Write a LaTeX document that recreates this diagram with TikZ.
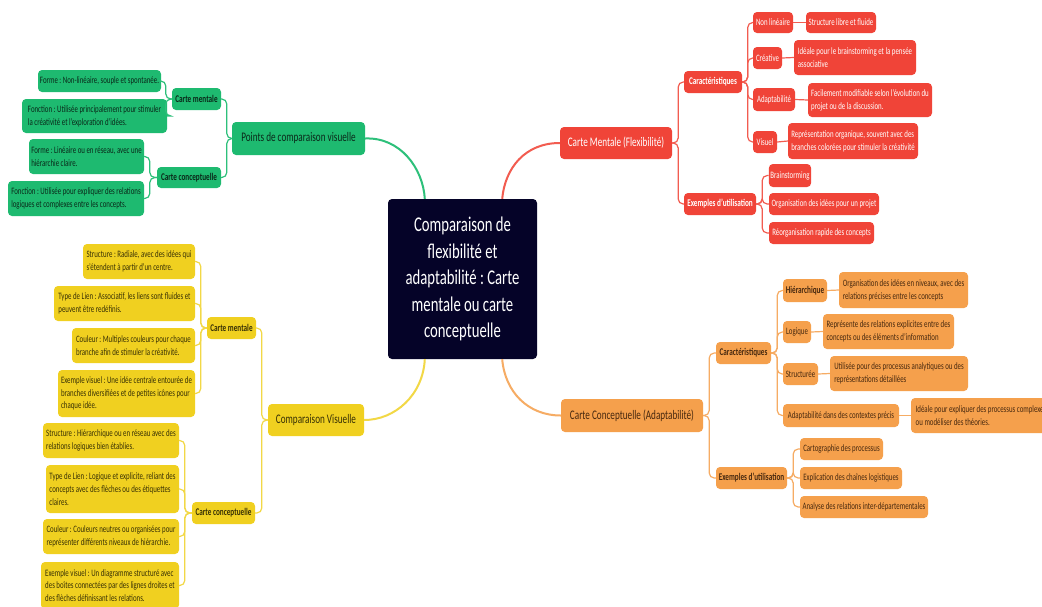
\documentclass[tikz,border=0pt]{standalone}
\usepackage{fontspec}
\setmainfont{Carlito}[FakeStretch=0.70]
\frenchspacing
\newcommand\fleaf{\fontsize{9.8}{12.8}\selectfont}
\newcommand\fmid{\fontsize{10.3}{11}\selectfont\bfseries}
\newcommand\fone{\fontsize{13.1}{15}\selectfont}
\newcommand\fcen{\fontsize{21}{26.5}\selectfont}
\definecolor{gfill}{RGB}{30,186,112}
\definecolor{gline}{RGB}{45,192,122}
\definecolor{gtext}{RGB}{10,40,25}
\definecolor{rfill}{RGB}{240,68,56}
\definecolor{rline}{RGB}{242,92,80}
\definecolor{ofill}{RGB}{245,160,76}
\definecolor{oline}{RGB}{246,172,100}
\definecolor{otext}{RGB}{70,40,15}
\definecolor{yfill}{RGB}{240,208,32}
\definecolor{yline}{RGB}{242,216,70}
\definecolor{ytext}{RGB}{55,48,5}
\definecolor{cfill}{RGB}{5,3,40}
\tikzset{
  x=1pt, y=-1pt,
  sz/.style 2 args={minimum width=#1pt, minimum height=#2pt},
  box/.style={rounded corners=4pt, align=left, inner sep=1.5pt, font=\fleaf},
  gbox/.style={box, fill=gfill, text=gtext},
  rbox/.style={box, fill=rfill, text=white},
  obox/.style={box, fill=ofill, text=otext},
  ybox/.style={box, fill=yfill, text=ytext},
  lvone/.style={font=\fone, align=center},
  lvtwo/.style={font=\fmid, align=center},
  link/.style={rounded corners=5pt, line width=1.2pt},
  curve/.style={line width=2pt},
}
\begin{document}
\begin{tikzpicture}
\useasboundingbox (0,0) rectangle (1042,606);
\fill[white] (0,0) rectangle (1042,606);

% central
\node[box, fill=cfill, text=white, font=\fcen, align=center, sz={149}{160}] (cen) at (462.5,279)
  {Comparaison de\\flexibilité et\\adaptabilité : Carte\\mentale ou carte\\conceptuelle};

% ---------------- green ----------------
\node[gbox, lvone, sz={133}{33}] (gP) at (298.5,138.5) {Points de comparaison visuelle};
\node[gbox, lvtwo, sz={49}{22}] (gCM) at (196.5,99) {Carte mentale};
\node[gbox, sz={123}{22}] (gCM1) at (99.5,81) {Forme : Non-linéaire, souple et spontanée.};
\node[gbox, sz={145}{34}] (gCM2) at (94.5,116) {Fonction : Utilisée principalement pour stimuler\\la créativité et l'exploration d'idées.};
\node[gbox, lvtwo, sz={64}{21}] (gCC) at (189,177.5) {Carte conceptuelle};
\node[gbox, sz={115}{35}] (gCC1) at (86.5,156.5) {Forme : Linéaire ou en réseau, avec une\\hiérarchie claire.};
\node[gbox, sz={136}{35}] (gCC2) at (76,198.5) {Fonction : Utilisée pour expliquer des relations\\logiques et complexes entre les concepts.};

\draw[curve, gline] (gP.east) .. controls (400,137) and (423,168) .. ([xshift=37pt]cen.north west);
\draw[link, gline] (gP.west) -- ++(-5,0) |- (gCM.east);
\draw[link, gline] (gP.west) -- ++(-5,0) |- (gCC.east);
\draw[link, gline] (gCM.west) -- ++(-6,0) |- (gCM1.east);
\draw[link, gline] (gCM.west) -- ++(-6,0) |- (gCM2.east);
\draw[link, gline] (gCC.west) -- ++(-7,0) |- (gCC1.east);
\draw[link, gline] (gCC.west) -- ++(-7,0) |- (gCC2.east);

% ---------------- red ----------------
\node[rbox, lvone, sz={112}{32}] (rCM) at (616,143) {Carte Mentale (Flexibilité)};
\node[rbox, lvtwo, sz={58}{22}] (rCa) at (713,82) {Caractéristiques};
\node[rbox, lvtwo, sz={72}{22}] (rEx) at (720,204) {Exemples d'utilisation};
\node[rbox, sz={40}{21}] (rNL) at (773,22.5) {Non linéaire};
\node[rbox, sz={70}{21}] (rNL1) at (841,22.5) {Structure libre et fluide};
\node[rbox, sz={29}{22}] (rCr) at (767.5,58) {Créative};
\node[rbox, sz={122}{35}] (rCr1) at (855,57.5) {Idéale pour le brainstorming et la pensée\\associative};
\node[rbox, sz={42}{23}] (rAd) at (774,99.5) {Adaptabilité};
\node[rbox, sz={124}{34}] (rAd1) at (870,100) {Facilement modifiable selon l'évolution du\\projet ou de la discussion.};
\node[rbox, sz={24}{22}] (rVi) at (765,142) {Visuel};
\node[rbox, sz={130}{36}] (rVi1) at (853,141) {Représentation organique, souvent avec des\\branches colorées pour stimuler la créativité};
\node[rbox, sz={42}{23}] (rEx1) at (790,175.5) {Brainstorming};
\node[rbox, sz={110}{22}] (rEx2) at (824,204) {Organisation des idées pour un projet};
\node[rbox, sz={105}{22}] (rEx3) at (821.5,233) {Réorganisation rapide des concepts};

\draw[curve, rline] ([xshift=-35pt]cen.north east) .. controls (505,168) and (525,143) .. (rCM.west);
\draw[link, rline] (rCM.east) -- ++(6,0) |- (rCa.west);
\draw[link, rline] (rCM.east) -- ++(6,0) |- (rEx.west);
\foreach \c in {rNL,rCr,rAd,rVi}
  \draw[link, rline] (rCa.east) -- ++(5.5,0) |- (\c.west);
\foreach \c in {rEx1,rEx2,rEx3}
  \draw[link, rline] (rEx.east) -- ++(6,0) |- (\c.west);
\draw[link, rline] (rNL.east) -- (rNL1.west);
\draw[link, rline] (rCr.east) -- (rCr1.west);
\draw[link, rline] (rAd.east) -- (rAd1.west);
\draw[link, rline] (rVi.east) -- (rVi1.west);

% ---------------- orange ----------------
\node[obox, lvone, sz={142}{33}] (oCC) at (632,415.5) {Carte Conceptuelle (Adaptabilité)};
\node[obox, lvtwo, sz={55}{22}] (oCa) at (743.5,353) {Caractéristiques};
\node[obox, lvtwo, sz={71}{22}] (oEx) at (751.5,478) {Exemples d'utilisation};
\node[obox, lvtwo, sz={44}{23}] (oHi) at (805,290.5) {Hiérarchique};
\node[obox, sz={129}{36}] (oHi1) at (903.5,290) {Organisation des idées en niveaux, avec des\\relations précises entre les concepts};
\node[obox, sz={28}{22}] (oLo) at (797,332) {Logique};
\node[obox, sz={131}{35}] (oLo1) at (888.5,331.5) {Représente des relations explicites entre des\\concepts ou des éléments d'information};
\node[obox, sz={35}{22}] (oSt) at (800.5,374) {Structurée};
\node[obox, sz={138}{35}] (oSt1) at (899,373.5) {Utilisée pour des processus analytiques ou des\\représentations détaillées};
\node[obox, sz={116}{23}] (oAd) at (841,415.5) {Adaptabilité dans des contextes précis};
\node[obox, sz={140}{35}] (oAd1) at (981,415.5) {Idéale pour expliquer des processus complexes\\ou modéliser des théories.};
\node[obox, sz={83}{22}] (oEx1) at (841.5,449) {Cartographie des processus};
\node[obox, sz={102}{22}] (oEx2) at (851,478) {Explication des chaînes logistiques};
\node[obox, sz={128}{22}] (oEx3) at (864,507) {Analyse des relations inter-départementales};

\draw[curve, oline] ([xshift=-35pt]cen.south east) .. controls (505,392) and (528,415.5) .. (oCC.west);
\draw[link, oline] (oCC.east) -- ++(6,0) |- (oCa.west);
\draw[link, oline] (oCC.east) -- ++(6,0) |- (oEx.west);
\foreach \c in {oHi,oLo,oSt,oAd}
  \draw[link, oline] (oCa.east) -- ++(6,0) |- (\c.west);
\foreach \c in {oEx1,oEx2,oEx3}
  \draw[link, oline] (oEx.east) -- ++(6,0) |- (\c.west);
\draw[link, oline] (oHi.east) -- (oHi1.west);
\draw[link, oline] (oLo.east) -- (oLo1.west);
\draw[link, oline] (oSt.east) -- (oSt1.west);
\draw[link, oline] (oAd.east) -- (oAd1.west);

% ---------------- yellow ----------------
\node[ybox, lvone, sz={96}{32}] (yCV) at (316,420) {Comparaison Visuelle};
\node[ybox, lvtwo, sz={49}{22}] (yCM) at (231.5,328) {Carte mentale};
\node[ybox, sz={112}{35}] (yCM1) at (139,261.5) {Structure : Radiale, avec des idées qui\\s'étendent à partir d'un centre.};
\node[ybox, sz={141}{35}] (yCM2) at (124.5,303.5) {Type de Lien : Associatif, les liens sont fluides et\\peuvent être redéfinis.};
\node[ybox, sz={123}{35}] (yCM3) at (133.5,345.5) {Couleur : Multiples couleurs pour chaque\\branche afin de stimuler la créativité.};
\node[ybox, sz={137}{47}] (yCM4) at (126.5,393.5) {Exemple visuel : Une idée centrale entourée de\\branches diversifiées et de petites icônes pour\\chaque idée.};
\node[ybox, lvtwo, sz={63}{22}] (yCC) at (223.5,513) {Carte conceptuelle};
\node[ybox, sz={136}{35}] (yCC1) at (111,440.5) {Structure : Hiérarchique ou en réseau avec des\\relations logiques bien établies.};
\node[ybox, sz={133}{48}] (yCC2) at (112.5,489) {Type de Lien : Logique et explicite, reliant des\\concepts avec des flèches ou des étiquettes\\claires.};
\node[ybox, sz={136}{35}] (yCC3) at (111,536.5) {Couleur : Couleurs neutres ou organisées pour\\représenter différents niveaux de hiérarchie.};
\node[ybox, sz={138}{47}] (yCC4) at (110,585.5) {Exemple visuel : Un diagramme structuré avec\\des boîtes connectées par des lignes droites et\\des flèches définissant les relations.};

\draw[curve, yline] ([xshift=37pt]cen.south west) .. controls (423,395) and (395,420) .. (yCV.east);
\draw[link, yline] (yCV.west) -- ++(-6,0) |- (yCM.east);
\draw[link, yline] (yCV.west) -- ++(-6,0) |- (yCC.east);
\foreach \c in {yCM1,yCM2,yCM3,yCM4}
  \draw[link, yline] (yCM.west) -- ++(-6,0) |- (\c.east);
\foreach \c in {yCC1,yCC2,yCC3,yCC4}
  \draw[link, yline] (yCC.west) -- ++(-7,0) |- (\c.east);
\end{tikzpicture}
\end{document}
